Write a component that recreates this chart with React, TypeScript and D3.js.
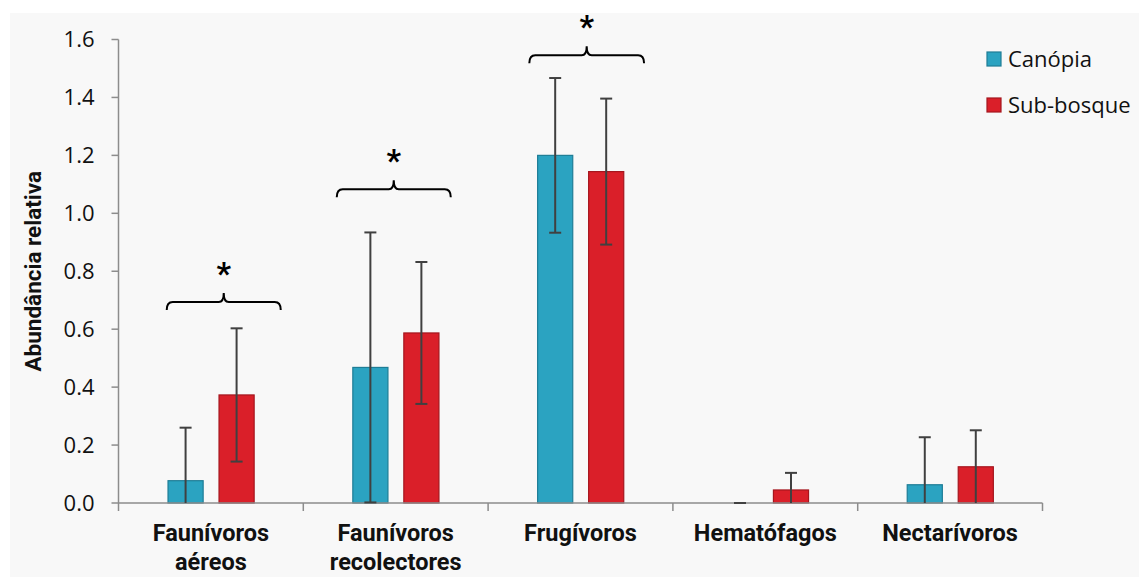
import React from "react";
import * as d3 from "d3";

// Guild categories and series
const categories = [
  ["Faunívoros", "aéreos"],
  ["Faunívoros", "recolectores"],
  ["Frugívoros"],
  ["Hematófagos"],
  ["Nectarívoros"],
];
const seriesNames = ["Canópia", "Sub-bosque"];
const canopiaValues = [0.077, 0.468, 1.2, 0, 0.063];
const canopiaErrors = [0.183, 0.466, 0.267, 0, 0.164];
const subBosqueValues = [0.373, 0.587, 1.144, 0.045, 0.125];
const subBosqueErrors = [0.23, 0.245, 0.252, 0.059, 0.126];
const yTicks = [0, 0.2, 0.4, 0.6, 0.8, 1.0, 1.2, 1.4, 1.6];

// Significance brackets: category index, bracket level, span within the band
const brackets = [
  { cat: 0, level: 0.694, from: 0.261, to: 0.878 },
  { cat: 1, level: 1.083, from: 0.181, to: 0.798 },
  { cat: 2, level: 1.546, from: 0.223, to: 0.844 },
];

const W = 1139;
const H = 577;
const colors = ["#2BA3C1", "#DA1F29"];
const strokes = ["#1E7D96", "#A5161E"];

export default function App() {
  const x0 = 118.5;
  const x1 = 1042.5;
  const yBase = 503;
  const yTop = 39.5;
  const x = d3
    .scaleBand<number>()
    .domain(categories.map((_, i) => i))
    .range([x0, x1])
    .padding(0);
  const y = d3.scaleLinear().domain([0, 1.6]).range([yBase, yTop]);
  const bw = x.bandwidth();
  const barW = bw * 0.19;
  const offsets = [bw * 0.268, bw * 0.544];

  const series = [
    { vals: canopiaValues, errs: canopiaErrors },
    { vals: subBosqueValues, errs: subBosqueErrors },
  ];

  const axisColor = "#8C8C8C";
  const tickFont = "'Open Sans', sans-serif";
  const boldFont = "Roboto, 'Liberation Sans', sans-serif";

  return (
    <svg
      width={W}
      height={H}
      style={{ position: "absolute", left: 0, top: 0, display: "block" }}
    >
      <rect x={0} y={0} width={W} height={H} fill="#FFFFFF" />
      <rect x={10} y={13} width={W - 10} height={H - 13} fill="#F8F8F8" />

      {/* Y axis */}
      <line x1={x0} x2={x0} y1={yTop} y2={yBase} stroke={axisColor} strokeWidth={1.5} />
      {yTicks.map((t) => (
        <g key={t}>
          <line x1={x0 - 7} x2={x0} y1={y(t)} y2={y(t)} stroke={axisColor} strokeWidth={1.5} />
          <text
            x={x0 - 24}
            y={y(t)}
            dy="0.36em"
            textAnchor="end"
            fontFamily={tickFont}
            fontSize={22}
            fill="#111"
          >
            {t.toFixed(1)}
          </text>
        </g>
      ))}
      <text
        transform={`translate(41,${(yTop + yBase) / 2}) rotate(-90)`}
        textAnchor="middle"
        fontFamily={boldFont}
        fontWeight="bold"
        fontSize={22.5}
        fill="#111"
      >
        Abundância relativa
      </text>

      {/* Bars */}
      {series.map((s, si) =>
        s.vals.map((v, ci) => {
          const bx = (x(ci) as number) + offsets[si];
          return (
            <rect
              key={`b${si}-${ci}`}
              x={bx}
              y={y(v)}
              width={barW}
              height={yBase - y(v)}
              fill={colors[si]}
              stroke={strokes[si]}
              strokeWidth={1.2}
            />
          );
        })
      )}

      {/* X axis */}
      <line x1={x0} x2={x1} y1={yBase} y2={yBase} stroke={axisColor} strokeWidth={1.5} />
      {d3.range(categories.length + 1).map((i) => {
        const tx = x0 + i * bw;
        return (
          <line key={`xt${i}`} x1={tx} x2={tx} y1={yBase} y2={yBase + 8} stroke={axisColor} strokeWidth={1.5} />
        );
      })}

      {/* Error bars */}
      {series.map((s, si) =>
        s.vals.map((v, ci) => {
          const cx = (x(ci) as number) + offsets[si] + barW / 2;
          const hi = v + s.errs[ci];
          const loRaw = v - s.errs[ci];
          const lo = Math.max(0, loRaw);
          return (
            <g key={`e${si}-${ci}`} stroke="#404040" strokeWidth={2}>
              <line x1={cx} x2={cx} y1={y(hi)} y2={y(lo)} />
              <line x1={cx - 6} x2={cx + 6} y1={y(hi)} y2={y(hi)} />
              {loRaw > 0 && <line x1={cx - 6} x2={cx + 6} y1={y(lo)} y2={y(lo)} />}
            </g>
          );
        })
      )}

      {/* Category labels */}
      {categories.map((lines, i) => (
        <text
          key={`c${i}`}
          x={(x(i) as number) + bw / 2}
          y={541}
          textAnchor="middle"
          fontFamily={boldFont}
          fontWeight="bold"
          fontSize={23.5}
          fill="#111"
        >
          {lines.map((l, li) => (
            <tspan key={li} x={(x(i) as number) + bw / 2} dy={li === 0 ? 0 : 29}>
              {l}
            </tspan>
          ))}
        </text>
      ))}

      {/* Significance brackets */}
      {brackets.map((b, i) => {
        const bx0 = (x(b.cat) as number) + b.from * bw;
        const bx1 = (x(b.cat) as number) + b.to * bw;
        const mid = (bx0 + bx1) / 2;
        const by = y(b.level);
        const p = d3.path();
        p.moveTo(bx0, by + 8);
        p.quadraticCurveTo(bx0, by, bx0 + 6, by);
        p.lineTo(mid - 5, by);
        p.quadraticCurveTo(mid, by, mid, by - 9);
        p.quadraticCurveTo(mid, by, mid + 5, by);
        p.lineTo(bx1 - 6, by);
        p.quadraticCurveTo(bx1, by, bx1, by + 8);
        return (
          <g key={`br${i}`}>
            <path d={p.toString()} fill="none" stroke="#000" strokeWidth={2} />
            <text
              x={mid}
              y={by - 18}
              textAnchor="middle"
              fontFamily={boldFont}
              fontWeight="bold"
              fontSize={32}
              fill="#000"
            >
              *
            </text>
          </g>
        );
      })}

      {/* Legend */}
      {seriesNames.map((n, i) => (
        <g key={n} transform={`translate(987,${52 + i * 46})`}>
          <rect width={14} height={14} fill={colors[i]} stroke={strokes[i]} strokeWidth={1.2} />
          <text x={21} y={7} dy="0.36em" fontFamily={tickFont} fontSize={22} fill="#111">
            {n}
          </text>
        </g>
      ))}
    </svg>
  );
}
